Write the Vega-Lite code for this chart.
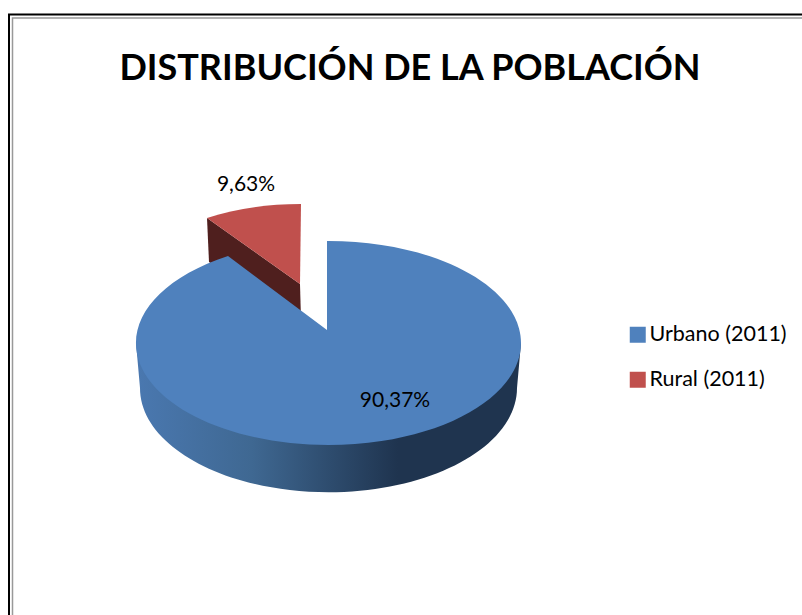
{"$schema":"https://vega.github.io/schema/vega-lite/v6.json","width":802,"height":615,"padding":0,"autosize":{"type":"none"},"background":"white","view":{"stroke":null},"title":{"text":"DISTRIBUCIÓN DE LA POBLACIÓN","font":"Lato","fontWeight":"bold","fontSize":36,"color":"#000000","anchor":"middle","dx":9,"dy":88,"offset":0},"data":{"values":[{"slice":"Urbano (2011)","sector":"Urbano","value":90.37,"label":"90,37%"},{"slice":"Rural (2011)","sector":"Rural","value":9.63,"label":"9,63%"}]},"layer":[{"data":{"values":[{"frame":"outer"}]},"mark":{"type":"point","filled":false,"opacity":1,"size":4,"stroke":"#000000","strokeWidth":2,"shape":"M-392,308L-392,-293L401,-293"}},{"data":{"values":[{"frame":"inner"}]},"mark":{"type":"point","filled":false,"opacity":1,"size":4,"stroke":"#999999","strokeWidth":1.5,"shape":"M-388.5,308L-388.5,-289.5L401,-289.5"}},{"transform":[{"filter":"datum.slice === 'Urbano (2011)'"}],"mark":{"type":"point","filled":true,"opacity":1,"size":4,"strokeWidth":0,"shape":"M-265,35.5L-261,80.5A188,104 0 0 0 116,80.5L120,35.5Z","fill":{"gradient":"linear","x1":0,"y1":0,"x2":1,"y2":0,"stops":[{"offset":0,"color":"#4a78b0"},{"offset":0.3,"color":"#3f6892"},{"offset":0.68,"color":"#1f344f"},{"offset":1,"color":"#1f344f"}]}}},{"transform":[{"filter":"datum.slice === 'Rural (2011)'"}],"mark":{"type":"point","filled":true,"opacity":1,"size":4,"strokeWidth":0,"fill":"#4f1f1e","shape":"M-194,-89.5L-101,-23.5L-100,12.5L-192,-45.5Z"}},{"mark":{"type":"point","filled":true,"opacity":1,"size":4,"strokeWidth":0},"encoding":{"shape":{"field":"sector","type":"nominal","legend":null,"scale":{"domain":["Urbano","Rural"],"range":["M-74,22.5L-74,-66.5A192.5,102 0 1 1 -173,-51.5Z","M-101,-23.5L-100,-103.5C-136,-103.5 -166,-98.5 -194,-89.5Z"]}},"color":{"field":"slice","type":"nominal","sort":["Urbano (2011)","Rural (2011)"],"scale":{"domain":["Urbano (2011)","Rural (2011)"],"range":["#4f81bd","#c0504d"]},"legend":{"title":null,"orient":"none","legendX":627,"legendY":324,"symbolType":"square","symbolSize":256,"symbolStrokeWidth":0,"symbolOpacity":1,"labelFont":"Lato","labelFontSize":21.5,"labelColor":"#000000","labelOffset":1,"rowPadding":22,"labelLimit":200}}}},{"transform":[{"filter":"datum.slice === 'Urbano (2011)'"}],"mark":{"type":"text","font":"Lato","fontSize":21,"color":"#000000","dx":-6,"dy":93.5},"encoding":{"text":{"field":"label"}}},{"transform":[{"filter":"datum.slice === 'Rural (2011)'"}],"mark":{"type":"text","font":"Lato","fontSize":21,"color":"#000000","dx":-155,"dy":-122.5},"encoding":{"text":{"field":"label"}}}]}
